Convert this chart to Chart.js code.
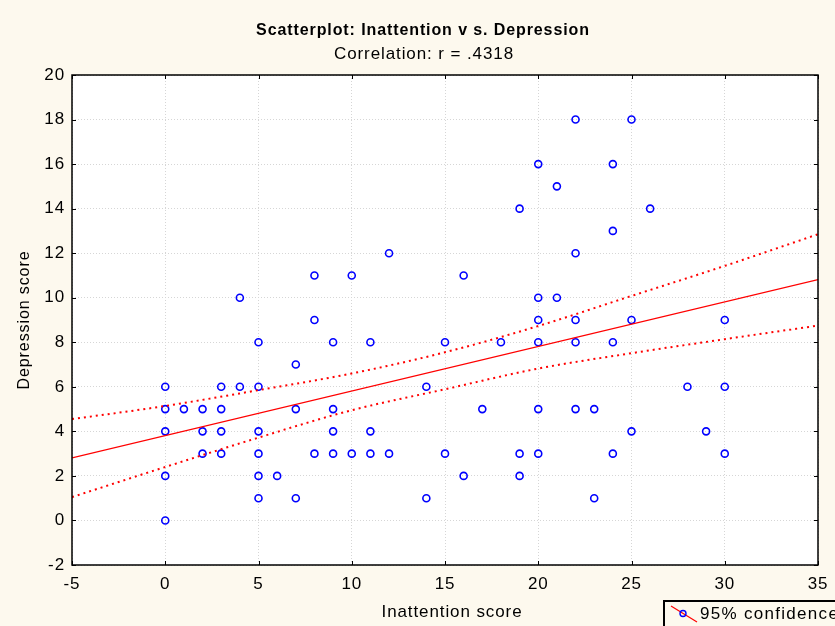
<!DOCTYPE html>
<html lang="en">
<head>
<meta charset="UTF-8">
<title>Scatterplot: Inattention vs. Depression</title>
<script src="https://cdn.jsdelivr.net/npm/chart.js"></script>
<style>
  html, body { margin: 0; padding: 0; background: #fdf9ee; }
  canvas { display: block; }
</style>
</head>
<body>
<canvas id="scatterChart" width="835" height="626"></canvas>
<script>
// raw scores
const inattention = [0,0,0,0,0, 1, 2,2,2, 3,3,3,3, 4,4, 5,5,5,5,5,5, 6, 7,7,7, 8,8,8, 9,9,9,9,
  10,10, 11,11,11, 12,12, 14,14, 15,15, 16,16, 17, 18, 19,19,19, 20,20,20,20,20,20, 21,21,
  22,22,22,22,22, 23,23, 24,24,24,24, 25,25,25, 26, 28, 29, 30,30,30];
const depression = [6,5,4,2,0, 5, 5,4,3, 6,5,4,3, 10,6, 8,6,4,3,2,1, 2, 7,5,1, 11,9,3, 8,5,4,3,
  11,3, 8,4,3, 12,3, 6,1, 8,3, 11,2, 5, 8, 14,3,2, 16,10,9,8,5,3, 15,10,
  18,12,9,8,5, 5,1, 16,13,8,3, 18,9,4, 14, 6, 4, 9,6,3];

// fitted line and 95% band
const fitX = [-5, 35];
const fitY = [2.81, 10.81];
const bandX = [-5, 0, 5, 10, 15, 20, 25, 30, 35];
const bandUpper = [4.55, 5.14, 5.85, 6.6, 7.55, 8.73, 10.08, 11.43, 12.85];
const bandLower = [1.05, 2.4, 3.72, 4.95, 5.89, 6.82, 7.51, 8.14, 8.75];

const xTicks = [-5, 0, 5, 10, 15, 20, 25, 30, 35];
const yTicks = [-2, 0, 2, 4, 6, 8, 10, 12, 14, 16, 18, 20];

const FONT = '"Liberation Sans", Arial, sans-serif';
const SPACING = '0.9px';
const pts = (xs, ys) => xs.map((x, i) => ({x: x, y: ys[i]}));

const frame = {
  id: 'frame',
  beforeUpdate(chart) {
    chart.ctx.letterSpacing = SPACING;
  },
  beforeDraw(chart) {
    const {ctx, chartArea: a} = chart;
    ctx.save();
    ctx.fillStyle = '#fdf9ee';
    ctx.fillRect(0, 0, chart.width, chart.height);
    ctx.fillStyle = '#ffffff';
    ctx.fillRect(a.left, a.top, a.right - a.left, a.bottom - a.top);
    ctx.restore();
    ctx.letterSpacing = SPACING;
  },
  afterDraw(chart) {
    const {ctx, chartArea: a, scales} = chart;
    ctx.save();
    // plot box
    ctx.strokeStyle = '#000';
    ctx.lineWidth = 1.5;
    ctx.strokeRect(a.left, a.top, a.right - a.left, a.bottom - a.top);
    // inner tick marks on all four sides
    ctx.lineWidth = 1;
    ctx.beginPath();
    yTicks.forEach(v => {
      const y = Math.round(scales.y.getPixelForValue(v)) + 0.5;
      ctx.moveTo(a.left, y); ctx.lineTo(a.left + 4, y);
      ctx.moveTo(a.right, y); ctx.lineTo(a.right - 4, y);
    });
    xTicks.forEach(v => {
      const x = Math.round(scales.x.getPixelForValue(v)) + 0.5;
      ctx.moveTo(x, a.bottom); ctx.lineTo(x, a.bottom - 4);
      ctx.moveTo(x, a.top); ctx.lineTo(x, a.top + 4);
    });
    ctx.stroke();

    // titles
    ctx.letterSpacing = SPACING;
    ctx.fillStyle = '#000';
    ctx.textAlign = 'center';
    ctx.textBaseline = 'middle';
    ctx.font = 'bold 16px ' + FONT;
    ctx.fillText('Scatterplot: Inattention v s. Depression', 423, 31);
    ctx.font = '17px ' + FONT;
    ctx.fillText('Correlation: r = .4318', 424, 54);
    ctx.fillText('Inattention score', 452, 612);

    // legend box (runs off the edge like the original)
    ctx.lineWidth = 2;
    ctx.strokeRect(664, 601, 200, 40);
    ctx.strokeStyle = '#ff0000';
    ctx.lineWidth = 1.2;
    ctx.beginPath();
    ctx.moveTo(671, 606); ctx.lineTo(697, 622);
    ctx.stroke();
    ctx.strokeStyle = '#0000ff';
    ctx.lineWidth = 1.4;
    ctx.beginPath();
    ctx.arc(683, 613.5, 3, 0, Math.PI * 2);
    ctx.stroke();
    ctx.textAlign = 'left';
    ctx.fillStyle = '#000';
    ctx.font = '17px ' + FONT;
    ctx.letterSpacing = '1.3px';
    ctx.fillText('95% confidence', 700, 614);
    ctx.restore();
  }
};

const ctx = document.getElementById('scatterChart').getContext('2d');
new Chart(ctx, {
  type: 'scatter',
  data: {
    datasets: [
      {
        type: 'line',
        data: pts(fitX, fitY),
        borderColor: '#ff0000',
        borderWidth: 1.3,
        pointRadius: 0,
        fill: false
      },
      {
        type: 'line',
        data: pts(bandX, bandUpper),
        borderColor: '#ff0000',
        borderWidth: 2,
        borderDash: [2, 4],
        pointRadius: 0,
        cubicInterpolationMode: 'monotone',
        fill: false
      },
      {
        type: 'line',
        data: pts(bandX, bandLower),
        borderColor: '#ff0000',
        borderWidth: 2,
        borderDash: [2, 4],
        pointRadius: 0,
        cubicInterpolationMode: 'monotone',
        fill: false
      },
      {
        data: pts(inattention, depression),
        pointStyle: 'circle',
        pointRadius: 3.5,
        pointBorderWidth: 1.6,
        pointBorderColor: '#0000ff',
        pointBackgroundColor: 'rgba(0,0,0,0)'
      }
    ]
  },
  options: {
    responsive: false,
    animation: false,
    layout: { padding: { top: 75, right: 17, left: 0, bottom: 0 } },
    plugins: {
      legend: { display: false },
      tooltip: { enabled: false }
    },
    scales: {
      x: {
        type: 'linear',
        min: -5,
        max: 35,
        afterBuildTicks: s => { s.ticks = xTicks.map(v => ({value: v})); },
        afterFit: s => { s.height = 61; s.paddingLeft = 0; s.paddingRight = 0; },
        grid: { color: '#d6d6d6', drawTicks: false },
        border: { display: false, dash: [1, 2] },
        ticks: { color: '#000', padding: 9, font: { family: FONT, size: 17 } }
      },
      y: {
        min: -2,
        max: 20,
        afterBuildTicks: s => { s.ticks = yTicks.map(v => ({value: v})); },
        afterFit: s => { s.width = 72; s.paddingTop = 0; s.paddingBottom = 0; },
        grid: { color: '#d6d6d6', drawTicks: false },
        border: { display: false, dash: [1, 2] },
        ticks: { color: '#000', padding: 7, font: { family: FONT, size: 17 } },
        title: {
          display: true,
          text: 'Depression score',
          color: '#000',
          font: { family: FONT, size: 16 },
          padding: { top: 15, bottom: 0 }
        }
      }
    }
  },
  plugins: [frame]
});
</script>
</body>
</html>
